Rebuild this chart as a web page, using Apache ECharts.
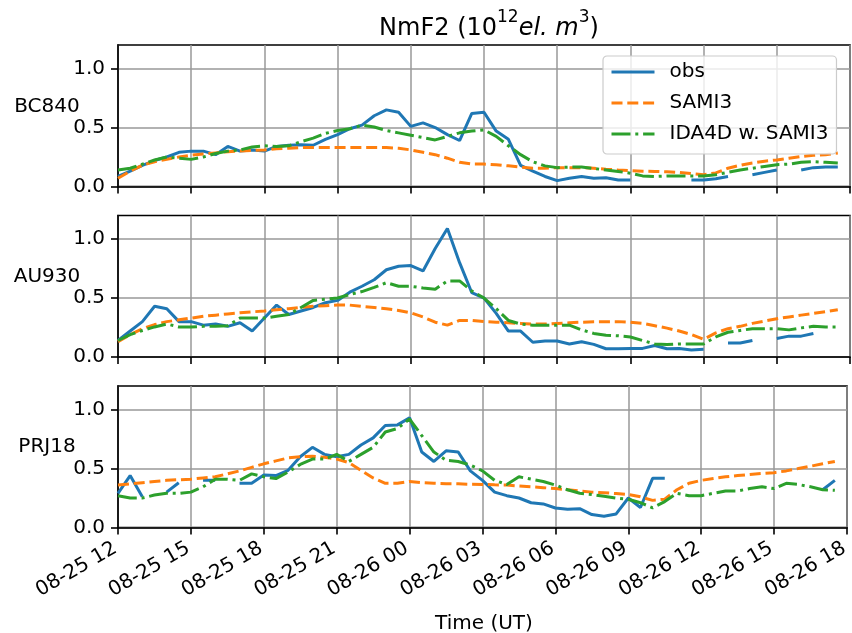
<!DOCTYPE html>
<html>
<head>
<meta charset="utf-8">
<script src="https://cdn.jsdelivr.net/npm/echarts@6/dist/echarts.min.js"></script>
<style>html,body{margin:0;padding:0;background:#fff}#c{width:852px;height:633px}</style>
</head>
<body>
<div id="c"></div>
<script>
// time axis: hours after 08-25 12:00 UT, half-hourly samples
const tickLabels = ['08-25 12','08-25 15','08-25 18','08-25 21','08-26 00','08-26 03','08-26 06','08-26 09','08-26 12','08-26 15','08-26 18'];
const stations = ['BC840','AU930','PRJ18'];
const seriesNames = ['obs','SAMI3','IDA4D w. SAMI3'];

const obsBC840 = [0.085,0.13,0.18,0.22,0.25,0.29,0.30,0.30,0.27,0.34,0.30,0.31,0.30,0.34,0.35,0.355,0.35,0.40,0.44,0.49,0.52,0.60,0.65,0.63,0.51,0.54,0.50,0.44,0.39,0.62,0.63,0.47,0.40,0.18,0.13,0.085,0.05,0.07,0.085,0.07,0.075,0.055,0.055,null,null,null,null,0.055,0.055,0.065,0.085,null,0.10,0.12,0.14,null,0.14,0.16,0.165,0.165];
const samiBC840 = [0.07,0.13,0.18,0.21,0.23,0.25,0.265,0.275,0.285,0.295,0.30,0.305,0.31,0.32,0.325,0.33,0.33,0.33,0.33,0.33,0.33,0.33,0.33,0.325,0.31,0.29,0.27,0.24,0.205,0.19,0.19,0.185,0.175,0.165,0.155,0.155,0.16,0.16,0.16,0.155,0.147,0.14,0.135,0.13,0.127,0.125,0.12,0.11,0.10,0.115,0.155,0.18,0.20,0.215,0.225,0.24,0.255,0.265,0.27,0.285];
const idaBC840 = [0.14,0.155,0.19,0.225,0.25,0.24,0.23,0.25,0.28,0.30,0.31,0.335,0.345,0.34,0.345,0.38,0.41,0.45,0.475,0.49,0.52,0.505,0.475,0.455,0.435,0.415,0.395,0.425,0.455,0.47,0.48,0.425,0.345,0.27,0.21,0.175,0.16,0.165,0.165,0.153,0.14,0.127,0.113,0.09,0.085,0.09,0.09,0.09,0.09,0.10,0.12,0.14,0.155,0.17,0.185,0.19,0.205,0.21,0.205,0.20];

const obsAU930 = [0.14,0.22,0.30,0.43,0.41,0.30,0.30,0.27,0.28,0.26,0.29,0.22,0.33,0.44,0.36,0.39,0.42,0.46,0.48,0.55,0.60,0.655,0.74,0.77,0.775,0.73,0.92,1.09,0.80,0.545,0.50,0.37,0.22,0.22,0.125,0.135,0.135,0.11,0.13,0.107,0.07,0.07,0.073,0.073,0.098,0.07,0.073,0.06,0.065,null,0.118,0.118,0.14,null,0.157,0.177,0.177,0.20,null,null];
const samiAU930 = [0.13,0.19,0.24,0.275,0.30,0.315,0.33,0.345,0.355,0.365,0.375,0.383,0.39,0.40,0.41,0.42,0.43,0.435,0.44,0.44,0.43,0.42,0.41,0.395,0.375,0.34,0.295,0.27,0.31,0.31,0.30,0.295,0.29,0.285,0.28,0.28,0.285,0.29,0.295,0.298,0.30,0.30,0.295,0.285,0.265,0.245,0.22,0.19,0.15,0.205,0.24,0.26,0.285,0.305,0.325,0.34,0.355,0.37,0.385,0.40];
const idaAU930 = [0.14,0.19,0.225,0.255,0.28,0.255,0.255,0.26,0.26,0.265,0.33,0.33,0.33,0.345,0.36,0.42,0.48,0.49,0.50,0.53,0.555,0.59,0.63,0.60,0.60,0.585,0.575,0.645,0.645,0.56,0.50,0.41,0.31,0.28,0.27,0.27,0.27,0.27,0.23,0.20,0.185,0.18,0.17,0.14,0.11,0.105,0.11,0.11,0.11,0.17,0.21,0.225,0.24,0.24,0.24,0.23,0.247,0.26,0.255,0.255];

const obsPRJ18 = [0.29,0.44,0.26,null,0.30,0.38,null,0.40,0.40,null,0.375,0.375,0.445,0.44,0.485,0.60,0.68,0.62,0.60,0.62,0.70,0.76,0.865,0.87,0.93,0.64,0.56,0.65,0.64,0.48,0.40,0.30,0.27,0.25,0.21,0.20,0.165,0.155,0.16,0.11,0.095,0.115,0.25,0.17,0.417,0.417,null,null,null,null,null,null,null,null,null,null,null,null,0.32,0.40];
const samiPRJ18 = [0.36,0.37,0.38,0.39,0.40,0.405,0.41,0.42,0.43,0.455,0.48,0.51,0.54,0.565,0.59,0.60,0.605,0.595,0.58,0.55,0.485,0.42,0.375,0.375,0.39,0.38,0.375,0.372,0.37,0.367,0.365,0.362,0.36,0.352,0.345,0.338,0.33,0.32,0.31,0.30,0.295,0.288,0.28,0.26,0.23,0.24,0.32,0.375,0.40,0.415,0.43,0.44,0.45,0.458,0.465,0.48,0.50,0.52,0.54,0.56];
const idaPRJ18 = [0.27,0.25,0.25,0.275,0.29,0.29,0.30,0.345,0.41,0.41,0.40,0.455,0.43,0.415,0.47,0.535,0.58,0.58,0.62,0.56,0.62,0.68,0.81,0.84,0.92,0.78,0.64,0.57,0.56,0.53,0.48,0.40,0.365,0.43,0.41,0.39,0.36,0.32,0.29,0.28,0.265,0.25,0.24,0.21,0.167,0.22,0.29,0.27,0.27,0.29,0.31,0.31,0.33,0.345,0.33,0.375,0.365,0.345,0.32,0.315];

const yTicks = [0, 0.5, 1.0];
const xTicks = [0,3,6,9,12,15,18,21,24,27,30];

const panelData = [
  [obsBC840, samiBC840, idaBC840],
  [obsAU930, samiAU930, idaAU930],
  [obsPRJ18, samiPRJ18, idaPRJ18]
];
const hours = obsBC840.map((_, k) => k * 0.5);

const FONT = 'DejaVu Sans';
const colors = ['#1f77b4', '#ff7f0e', '#2ca02c'];
const lineTypes = ['solid', [11, 4.8], [19, 4.8, 3, 4.8]];
const tops = [45, 215.5, 386];
const H = 141.5;

const grids = [], xAxes = [], yAxes = [], series = [];
tops.forEach((t, p) => {
  grids.push({left: 118, right: 2, top: t, height: H, show: true, borderColor: '#000', borderWidth: 1.6, backgroundColor: 'transparent'});
  xAxes.push({
    gridIndex: p, type: 'value', min: 0, max: 30, interval: 3,
    axisLine: {show: true, lineStyle: {color: '#000', width: 1.6}},
    axisTick: {show: true, length: 7, lineStyle: {color: '#000', width: 1.6}, customValues: xTicks},
    splitLine: {show: true, lineStyle: {color: '#999', width: 1.5}},
    axisLabel: p === 2 ? {
      show: true, customValues: xTicks, rotate: 30, margin: 18, color: '#000',
      fontFamily: FONT, fontSize: 20, padding: [0, 3, 0, 0],
      formatter: v => tickLabels[Math.round(v / 3)]
    } : {show: false}
  });
  yAxes.push({
    gridIndex: p, type: 'value', min: 0, max: 1.2, interval: 0.5,
    axisLine: {show: true, lineStyle: {color: '#000', width: 1.6}},
    axisTick: {show: true, length: 7, lineStyle: {color: '#000', width: 1.6}, customValues: yTicks},
    splitLine: {show: true, lineStyle: {color: '#999', width: 1.5}},
    axisLabel: {show: true, customValues: yTicks, margin: 13, color: '#000', fontFamily: FONT, fontSize: 20,
      formatter: v => v.toFixed(1)}
  });
  panelData[p].forEach((arr, s) => {
    series.push({
      name: seriesNames[s], type: 'line', xAxisIndex: p, yAxisIndex: p,
      data: hours.map((h, k) => [h, arr[k]]),
      showSymbol: false, symbol: 'none', connectNulls: false, animation: false,
      lineStyle: {color: colors[s], width: 3, type: lineTypes[s]},
      itemStyle: {color: colors[s]},
      z: 2 + s
    });
  });
});

const graphics = stations.map((name, p) => ({
  type: 'text', x: 47, y: [107, 277, 447][p],
  style: {text: name, fontFamily: FONT, fontSize: 20, fill: '#000', textAlign: 'center', textVerticalAlign: 'middle'}
}));
graphics.push({type: 'text', x: 484, y: 624, style: {text: 'Time (UT)', fontFamily: FONT, fontSize: 20, fill: '#000', textAlign: 'center', textVerticalAlign: 'middle'}});

const chart = echarts.init(document.getElementById('c'), null, {renderer: 'canvas'});
chart.setOption({
  animation: false,
  backgroundColor: '#fff',
  title: {
    text: '{n|NmF2 (10}{s|12}{i|el. m}{s|3}{n|)}',
    left: 484, top: 4, textAlign: 'center',
    textStyle: {
      fontWeight: 'normal',
      rich: {
        n: {fontFamily: FONT, fontSize: 24, fontWeight: 'normal', color: '#000', lineHeight: 32, verticalAlign: 'bottom'},
        i: {fontFamily: FONT, fontSize: 24, fontWeight: 'normal', fontStyle: 'italic', color: '#000', lineHeight: 32, verticalAlign: 'bottom'},
        s: {fontFamily: FONT, fontSize: 17, fontWeight: 'normal', color: '#000', lineHeight: 32, verticalAlign: 'top'}
      }
    }
  },
  legend: {
    data: seriesNames, orient: 'vertical', left: 603, top: 56,
    padding: [6, 8, 10, 7], itemGap: 11, itemWidth: 43, itemHeight: 14,
    backgroundColor: 'rgba(255,255,255,0.8)', borderColor: '#ccc', borderWidth: 1.2, borderRadius: 4,
    itemStyle: {opacity: 0, borderWidth: 0},
    lineStyle: {width: 3},
    textStyle: {fontFamily: FONT, fontSize: 20, color: '#000', lineHeight: 20, padding: [0, 0, 0, 10]},
    z: 10
  },
  grid: grids, xAxis: xAxes, yAxis: yAxes, series: series,
  graphic: graphics
});
</script>
</body>
</html>
